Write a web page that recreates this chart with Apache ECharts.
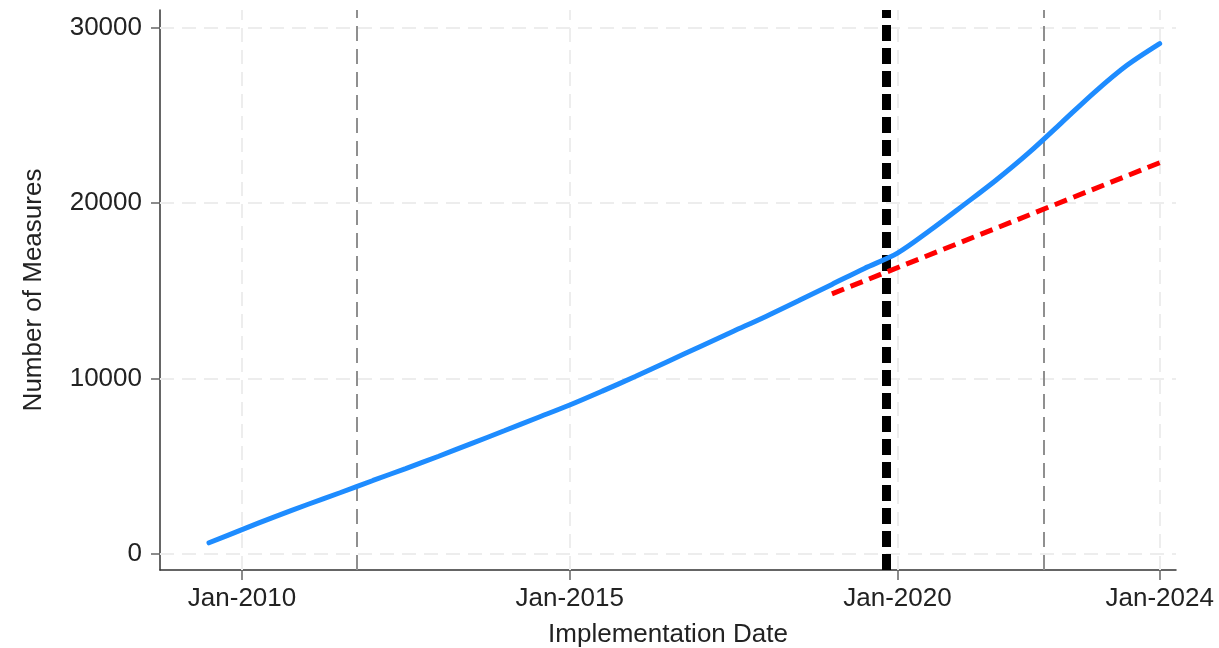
<!DOCTYPE html>
<html>
<head>
<meta charset="utf-8">
<script src="https://cdn.jsdelivr.net/npm/echarts@6.0.0/dist/echarts.min.js"></script>
<style>
  html, body { margin: 0; padding: 0; background: #ffffff; }
  #chart { width: 1219px; height: 648px; }
</style>
</head>
<body>
<div id="chart"></div>
<script>
// ---- data ----
const blueDates = ['2009-07','2010-01','2010-07','2011-01','2011-07','2012-01','2012-07','2013-01','2013-07','2014-01',
                   '2014-07','2015-01','2015-07','2016-01','2016-07','2017-01','2017-07','2018-01','2018-07','2019-01',
                   '2019-07','2020-01','2020-07','2021-01','2021-07','2022-01','2022-07','2023-01','2023-07','2024-01'];
const blueValues = [650, 1400, 2130, 2830, 3500, 4200, 4880, 5580, 6300, 7030,
                    7760, 8500, 9290, 10120, 10980, 11850, 12700, 13560, 14450, 15370,
                    16280, 17150, 18450, 19870, 21290, 22860, 24560, 26300, 27840, 29090];
const redDates = ['2019-01', '2024-01'];
const redValues = [14830, 22300];
const xTickDates = ['2010-01', '2015-01', '2020-01', '2024-01'];
const yTickValues = [0, 10000, 20000, 30000];
const grayLineDates = ['2011-10', '2022-03-25'];
const blackLineDate = '2019-11';
const xRange = ['2008-10', '2024-04'];
const yRange = [-900, 31000];
const monthNames = ['Jan','Feb','Mar','Apr','May','Jun','Jul','Aug','Sep','Oct','Nov','Dec'];

// ---- helpers ----
const ts = s => { const p = s.split('-').map(Number); return Date.UTC(p[0], p[1] - 1, p[2] || 1); };
const fmtDate = v => { const d = new Date(v); return monthNames[d.getUTCMonth()] + '-' + d.getUTCFullYear(); };
const pair = (ds, vs) => ds.map((d, i) => [ts(d), vs[i]]);

const FONT = '"Liberation Sans", Arial, Helvetica, sans-serif';
const TXT = '#222222';

const gridLineStyle = { color: '#ededed', width: 2, type: [14, 8] };
const markData = [];
xTickDates.forEach(d => markData.push({ xAxis: ts(d), lineStyle: gridLineStyle }));
yTickValues.forEach(v => markData.push({ yAxis: v, lineStyle: gridLineStyle }));
grayLineDates.forEach(d => markData.push({ xAxis: ts(d), lineStyle: { color: '#8f8f8f', width: 2, type: [15, 8] } }));
markData.push({ xAxis: ts(blackLineDate), lineStyle: { color: '#000000', width: 9, type: [16, 7] } });

const chart = echarts.init(document.getElementById('chart'), null, { renderer: 'canvas' });
chart.setOption({
  animation: false,
  backgroundColor: '#ffffff',
  textStyle: { fontFamily: FONT },
  grid: { left: 160, right: 43, top: 10, bottom: 78, containLabel: false, outerBoundsMode: 'none' },
  xAxis: {
    type: 'value',
    scale: true,
    min: ts(xRange[0]),
    max: ts(xRange[1]),
    name: 'Implementation Date',
    nameLocation: 'middle',
    nameGap: 52,
    nameTextStyle: { fontSize: 26, color: TXT, fontFamily: FONT },
    axisLine: { show: true, onZero: false, lineStyle: { color: '#333333', width: 1.5 } },
    axisTick: { show: true, length: 10, customValues: xTickDates.map(ts), lineStyle: { color: '#666666', width: 1.5 } },
    axisLabel: { show: true, customValues: xTickDates.map(ts), formatter: fmtDate, fontSize: 26, color: TXT, margin: 16, fontFamily: FONT, hideOverlap: false },
    splitLine: { show: false },
    minorTick: { show: false }
  },
  yAxis: {
    type: 'value',
    min: yRange[0],
    max: yRange[1],
    minInterval: 10000,
    maxInterval: 10000,
    name: 'Number of Measures',
    nameLocation: 'middle',
    nameGap: 113,
    nameTextStyle: { fontSize: 26, color: TXT, fontFamily: FONT },
    axisLine: { show: true, onZero: false, lineStyle: { color: '#333333', width: 1.5 } },
    axisTick: { show: true, length: 9, customValues: yTickValues, lineStyle: { color: '#666666', width: 1.5 } },
    axisLabel: { show: true, customValues: yTickValues, formatter: v => (v % 10000 === 0 && v >= 0 ? String(v) : ''), fontSize: 26, color: TXT, margin: 18, fontFamily: FONT },
    splitLine: { show: false }
  },
  series: [
    {
      name: 'refs',
      type: 'line',
      z: 1,
      data: [],
      showSymbol: false,
      silent: true,
      markLine: { silent: true, symbol: ['none', 'none'], label: { show: false }, animation: false, data: markData }
    },
    {
      name: 'Measures',
      type: 'line',
      z: 10,
      data: pair(blueDates, blueValues),
      showSymbol: false,
      smooth: 0.3,
      lineStyle: { color: '#1E8CFF', width: 5, cap: 'round' },
      itemStyle: { color: '#1E8CFF' }
    },
    {
      name: 'Trend',
      type: 'line',
      z: 11,
      data: pair(redDates, redValues),
      showSymbol: false,
      lineStyle: { color: '#FF0000', width: 5, type: [13, 7] },
      itemStyle: { color: '#FF0000' }
    }
  ]
});
</script>
</body>
</html>
